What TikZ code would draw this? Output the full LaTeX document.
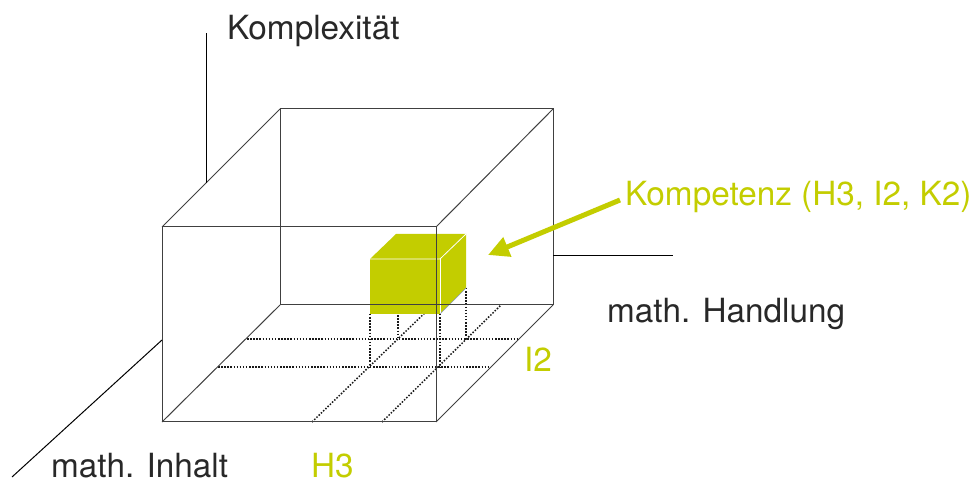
\documentclass[tikz,border=0pt]{standalone}
\usepackage{fontspec}
\setmainfont{TeX Gyre Heros}
\usetikzlibrary{arrows.meta}
\definecolor{lime}{RGB}{195,205,0}
\definecolor{txt}{RGB}{40,40,40}
\definecolor{bluegray}{RGB}{140,155,190}
\begin{document}
\begin{tikzpicture}[x=1pt,y=-1pt,
  edge/.style={line width=1pt,draw=black!75},
  axis/.style={line width=1pt,draw=black},
  gridline/.style={line width=1.5pt,dash pattern=on 1.5pt off 1.6pt,draw=black!90},
  lbl/.style={anchor=base west,inner sep=0pt,font=\fontsize{33.3}{36}\selectfont,text=txt},
  glbl/.style={lbl,text=lime},
  face/.style={fill=lime,draw=none}]
\useasboundingbox (0,0) rectangle (978,486);
% big cube corners
\coordinate (A) at (162,422);
\coordinate (B) at (436,422);
\coordinate (C) at (436,227);
\coordinate (D) at (162,227);
\coordinate (E) at (280,305);
\coordinate (F) at (553,305);
\coordinate (G) at (553,109);
\coordinate (H) at (280,109);
% axes
\coordinate (zb) at (206,183);
\coordinate (zt) at (206,33);
\coordinate (hb) at (553,256);
\coordinate (he) at (673,256);
\coordinate (ib) at (162,340);
\coordinate (ie) at (12,477);
% floor grid
\coordinate (g1a) at (247,339); \coordinate (g1b) at (518,339);
\coordinate (g2a) at (218,367); \coordinate (g2b) at (490,367);
\coordinate (d1a) at (312,422); \coordinate (d1b) at (433,305);
\coordinate (d2a) at (382,422); \coordinate (d2b) at (501,305);
\draw[gridline] (g1a) -- (g1b);
\draw[gridline] (g2a) -- (g2b);
\draw[gridline] (d1a) -- (d1b);
\draw[gridline] (d2a) -- (d2b);
% small cube
\coordinate (s1) at (370,314);
\coordinate (s2) at (440,314);
\coordinate (s3) at (440,259);
\coordinate (s4) at (370,259);
\coordinate (s5) at (396,234);
\coordinate (s6) at (466,234);
\coordinate (s7) at (466,288);
\coordinate (s8) at (398,312);
\coordinate (p1) at (370,367);
\coordinate (p2) at (440,367);
\coordinate (p3) at (466,339);
\coordinate (p4) at (398,339);
\draw[gridline] (s1) -- (p1);
\draw[gridline] (s2) -- (p2);
\draw[gridline] (s7) -- (p3);
\draw[gridline] (s8) -- (p4);
\fill[face] (s1) -- (s2) -- (s3) -- (s4) -- cycle;
\fill[face] (s4) -- (s5) -- (s6) -- (s3) -- cycle;
\fill[face] (s3) -- (s6) -- (s7) -- (s2) -- cycle;
\draw[white,line width=0.8pt] (s4) -- (s3) -- (s6);
\draw[white,line width=0.8pt] (s3) -- (s2);
\draw[bluegray,line width=0.7pt] (s2) -- (s7);
% big cube edges
\draw[edge] (A) -- (B) -- (C) -- (D) -- cycle;
\draw[edge] (E) -- (F) -- (G) -- (H) -- cycle;
\draw[edge] (A) -- (E);
\draw[edge] (B) -- (F);
\draw[edge] (C) -- (G);
\draw[edge] (D) -- (H);
% axes
\draw[axis] (zb) -- (zt);
\draw[axis] (hb) -- (he);
\draw[axis] (ib) -- (ie);
% labels
\node[lbl] (lk) at (227,40) {Komplexität};
\node[lbl] (lh) at (607,323) {math. Handlung};
\node[lbl] (li) at (51,478) {math. Inhalt};
\node[glbl] (lh3) at (311,478) {H3};
\node[glbl] (li2) at (524,372) {I2};
\node[glbl] (lkomp) at (625,206) {Kompetenz (H3, I2, K2)};
% arrow
\coordinate (as) at (620,200);
\coordinate (at) at (488,255);
\draw[lime,line width=5pt,-{Triangle[length=21pt,width=20pt]}] (as) -- (at);
\end{tikzpicture}
\end{document}
